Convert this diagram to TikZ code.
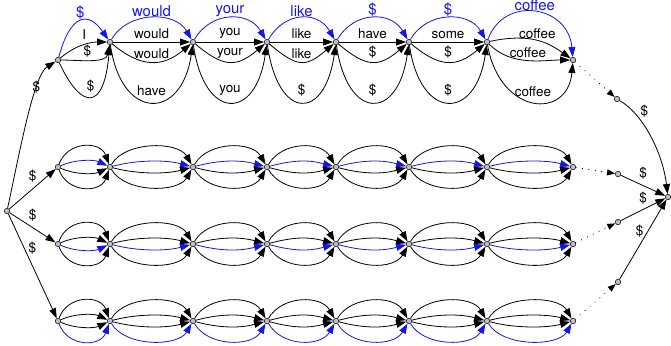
\documentclass[tikz,border=0pt]{standalone}
\usepackage{fontspec}
\setmainfont{TeX Gyre Heros}
\usetikzlibrary{arrows.meta}
\definecolor{lblue}{RGB}{20,20,235}
\begin{document}
\begin{tikzpicture}[x=1bp,y=1bp,
  st/.style={circle,draw=black,fill=black!25,line width=0.5bp,inner sep=0pt,minimum size=5.5bp},
  ed/.style={draw=black,line width=0.8bp,-{Triangle[length=10bp,width=7bp]}},
  be/.style={ed,draw=lblue,-{Triangle[length=10bp,width=7bp,fill=lblue]}},
  lb/.style={font=\fontsize{13.5}{15}\selectfont,inner sep=1bp},
  bl/.style={font=\fontsize{15}{16}\selectfont,text=lblue,inner sep=1bp},
  dt/.style={draw=black,line width=1.2bp,line cap=round,dash pattern=on 0.01bp off 6.5bp,-{Triangle[length=8bp,width=6bp,line cap=butt]}}
]
\useasboundingbox (0,0) rectangle (671,-345);
% nodes
\node[st] (s) at (7,-211) {};
\node[st] (a0) at (58,-60) {};
\node[st] (a1) at (110,-42) {};
\node[st] (a2) at (193,-42) {};
\node[st] (a3) at (267,-42) {};
\node[st] (a4) at (336,-42) {};
\node[st] (a5) at (409,-42) {};
\node[st] (a6) at (487,-42) {};
\node[st] (a7) at (573,-60) {};
\foreach \r/\yy in {b/167,c/244,d/321}{
  \foreach \k/\xx in {0/58,1/110,2/193,3/267,4/336,5/409,6/487,7/573}{
    \node[st] (\r\k) at (\xx,-\yy) {};
  }
}
\node[st] (p1) at (617,-99) {};
\node[st] (p2) at (618,-174) {};
\node[st] (p3) at (618,-222) {};
\node[st] (p4) at (618,-282) {};
\node[st] (f) at (668,-197) {};
% row 1, first segment
\draw[be] (a0) .. controls +(75:48) and +(125:38) .. (a1) node[bl,above,pos=.5]{\$};
\draw[ed] (a0) .. controls +(40:25) and +(180:18) .. (a1) node[lb,above=4bp,pos=.5]{I};
\draw[ed] (a0) .. controls +(0:20) and +(-100:22) .. (a1) node[lb,above=1bp,pos=.45]{\$};
\draw[ed] (a0) .. controls +(-65:55) and +(-95:70) .. (a1) node[lb,above=3bp,pos=.5]{\$};
% row 1, middle segments
\foreach \i/\j/\bw/\sw/\lw/\dw in {1/2/would/would/would/have,2/3/your/you/your/you,3/4/like/like/like/\$,4/5/\$/have/\$/\$,5/6/\$/some/\$/\$}{
  \draw[be] (a\i) .. controls +(60:36) and +(120:36) .. (a\j) node[bl,above,pos=.5]{\bw};
  \draw[ed] (a\i) -- (a\j) node[lb,above=2bp,pos=.5]{\sw};
  \draw[ed] (a\i) .. controls +(-40:40) and +(-140:40) .. (a\j) node[lb,above=2bp,pos=.5]{\lw};
  \draw[ed] (a\i) .. controls +(-82:80) and +(-98:80) .. (a\j) node[lb,above=5bp,pos=.5]{\dw};
}
% row 1, last segment
\draw[be] (a6) .. controls +(70:50) and +(95:55) .. (a7) node[bl,above,pos=.5]{coffee};
\draw[ed] (a6) .. controls +(12:45) and +(145:30) .. (a7) node[lb,above=1bp,pos=.5]{coffee};
\draw[ed] (a6) .. controls +(-45:35) and +(180:30) .. (a7) node[lb,above=1bp,pos=.5]{coffee};
\draw[ed] (a6) .. controls +(-80:75) and +(-95:60) .. (a7) node[lb,above=4bp,pos=.5]{coffee};
% rows 2-4
\foreach \r/\bt/\bu/\bd/\bb in {b/ed/be/ed/ed,c/ed/ed/be/ed,d/ed/ed/ed/be}{
  \draw[\bt] (\r0) .. controls +(70:28) and +(110:28) .. (\r1);
  \draw[\bu] (\r0) .. controls +(25:18) and +(155:18) .. (\r1);
  \draw[\bd] (\r0) .. controls +(-25:18) and +(-155:18) .. (\r1);
  \draw[\bb] (\r0) .. controls +(-70:28) and +(-110:28) .. (\r1);
  \foreach \i/\j in {1/2,2/3,3/4,4/5,5/6,6/7}{
    \draw[\bt] (\r\i) .. controls +(60:30) and +(120:30) .. (\r\j);
    \draw[\bu] (\r\i) .. controls +(15:28) and +(165:28) .. (\r\j);
    \draw[\bd] (\r\i) .. controls +(-15:28) and +(-165:28) .. (\r\j);
    \draw[\bb] (\r\i) .. controls +(-60:30) and +(-120:30) .. (\r\j);
  }
}
% left fan
\draw[ed] (s) .. controls +(78:70) and +(-148:28) .. (a0) node[lb,pos=.7,xshift=-2bp]{\$};
\draw[ed] (s) -- (b0) node[lb,pos=.5,above=5bp]{\$};
\draw[ed] (s) -- (c0) node[lb,pos=.5,above=5bp]{\$};
\draw[ed] (s) -- (d0) node[lb,pos=.33,right=3bp]{\$};
% right side
\draw[dt] (a7) -- (p1);
\draw[dt] (b7) -- (p2);
\draw[dt] (c7) -- (p3);
\draw[dt] (d7) -- (p4);
\draw[ed] (p1) .. controls +(-30:30) and +(97:45) .. (f) node[lb,pos=.3,above right=0bp]{\$};
\draw[ed] (p2) -- (f) node[lb,pos=.5,above=5bp]{\$};
\draw[ed] (p3) -- (f) node[lb,pos=.5,above=4bp]{\$};
\draw[ed] (p4) -- (f) node[lb,pos=.6,left=3bp]{\$};
\end{tikzpicture}
\end{document}
